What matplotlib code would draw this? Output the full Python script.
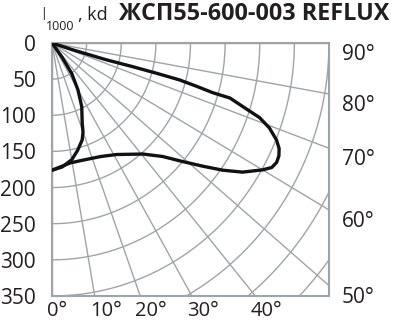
import numpy as np
import matplotlib
matplotlib.use("Agg")
import matplotlib.pyplot as plt

# luminous intensity curves, path order (angle from nadir in deg, intensity in kd)
lobe_ang = [0, 5, 10, 14, 18, 20, 21.5, 26, 30, 34, 36.5, 37]
lobe_int = [176, 172, 164, 153, 141, 131, 119, 98, 75, 51, 24, 0]

wing_ang = [0, 9, 15, 24, 31, 40.5, 45.5, 49, 52, 54.5, 57, 60, 61.5, 63, 64.5,
            66, 67.5, 69.5, 71, 72, 73.5, 73.5, 74, 74.5, 74.5, 74.3, 73.5, 72.5, 72]
wing_int = [176, 168, 168, 172, 180, 202, 224, 250, 277, 303, 328, 351, 361, 364, 363,
            359, 351, 335, 317, 295, 268, 242, 217, 191, 157, 121, 82, 32, 0]

radii = [50, 100, 150, 200, 250, 300, 350, 400, 450, 500]
ray_angles = [0, 10, 20, 30, 40, 50, 60, 70, 80, 90]
left_ticks = [0, 50, 100, 150, 200, 250, 300, 350]
bottom_deg = [0, 10, 20, 30, 40]
right_deg = [90, 80, 70, 60, 50]

title = "ЖСП55-600-003 REFLUX"

plt.rcParams['font.family'] = ['Open Sans', 'DejaVu Sans']
grid_c = '#9fa4a9'
txt_c = '#231f20'

fig = plt.figure(figsize=(4, 3.2), dpi=100)
ax = fig.add_axes([52 / 400, 24 / 320, 277 / 400, 253 / 320])
ax.set_xlim(0, 400)
ax.set_ylim(350, 0)

t = np.radians(np.linspace(0, 90, 200))
for r in radii:
    ax.plot(r * np.sin(t), r * np.cos(t), color=grid_c, lw=1.0, zorder=1)
for a in ray_angles:
    ar = np.radians(a)
    ax.plot([0, 700 * np.sin(ar)], [0, 700 * np.cos(ar)], color=grid_c, lw=1.0, zorder=1)

for ang, inten in [(lobe_ang, lobe_int), (wing_ang, wing_int)]:
    ar = np.radians(ang)
    I = np.array(inten)
    ax.plot(I * np.sin(ar), I * np.cos(ar), color='#111111', lw=2.4,
            solid_joinstyle='round', solid_capstyle='round', zorder=3)

ax.set_xticks([])
ax.set_yticks([])
for s in ax.spines.values():
    s.set_color(grid_c)
    s.set_linewidth(1.5)

for v in left_ticks:
    ax.annotate(str(v), xy=(0, v), xytext=(-16, 0), textcoords='offset pixels',
                ha='right', va='center_baseline', fontsize=15, color=txt_c,
                annotation_clip=False)

for d in bottom_deg:
    x = 350 * np.tan(np.radians(d))
    ax.annotate(f"{d}°", xy=(x, 350), xytext=(-5, -5), textcoords='offset pixels',
                ha='left', va='top', fontsize=14.5, color=txt_c, annotation_clip=False)

for d in right_deg:
    ar = np.radians(d)
    y = min(350, 400 * np.cos(ar) / np.sin(ar))
    ax.annotate(f"{d}°", xy=(400, y), xytext=(13, -1), textcoords='offset pixels',
                ha='left', va='top', fontsize=15, color=txt_c, annotation_clip=False)

fig.text(41 / 400, 1 - 20 / 320, "I", fontsize=13, color=txt_c, va='baseline',
         fontweight='light')
fig.text(46 / 400, 1 - 30 / 320, "1000", fontsize=9, color=txt_c, va='baseline')
fig.text(78 / 400, 1 - 20 / 320, ", kd", fontsize=13, color=txt_c, va='baseline')
fig.text(119 / 400, 1 - 20 / 320, title, fontsize=16.8, fontweight='bold',
         color=txt_c, va='baseline')

fig.savefig("out.png", dpi=100)
